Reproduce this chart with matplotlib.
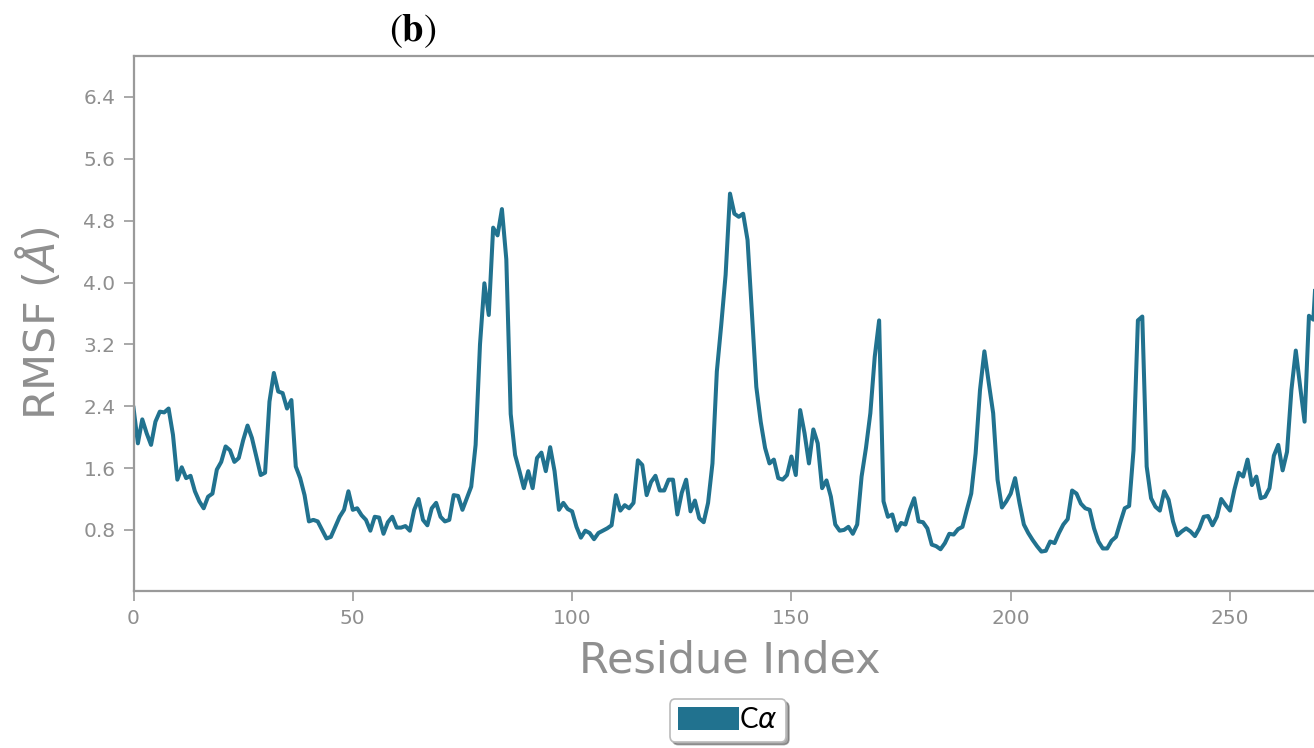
import numpy as np
import matplotlib
matplotlib.use("Agg")
import matplotlib.pyplot as plt
from matplotlib.patches import Patch

# RMSF per residue (Angstrom)
rmsf = [
    2.38, 1.92, 2.23, 2.05, 1.90, 2.20, 2.33, 2.32, 2.37, 2.03,   # 0-9
    1.45, 1.61, 1.47, 1.50, 1.30, 1.17, 1.08, 1.23, 1.27, 1.58,   # 10-19
    1.68, 1.88, 1.83, 1.68, 1.73, 1.96, 2.15, 1.99, 1.75, 1.51,   # 20-29
    1.54, 2.46, 2.83, 2.59, 2.57, 2.37, 2.48, 1.62, 1.47, 1.25,   # 30-39
    0.91, 0.93, 0.91, 0.80, 0.69, 0.71, 0.84, 0.97, 1.06, 1.30,   # 40-49
    1.06, 1.08, 0.99, 0.93, 0.79, 0.97, 0.96, 0.75, 0.90, 0.97,   # 50-59
    0.83, 0.83, 0.85, 0.79, 1.06, 1.20, 0.93, 0.86, 1.08, 1.15,   # 60-69
    0.97, 0.91, 0.93, 1.25, 1.24, 1.06, 1.21, 1.36, 1.90, 3.20,   # 70-79
    3.99, 3.58, 4.71, 4.61, 4.95, 4.30, 2.30, 1.77, 1.56, 1.34,   # 80-89
    1.56, 1.34, 1.73, 1.80, 1.56, 1.87, 1.56, 1.06, 1.15, 1.07,   # 90-99
    1.04, 0.84, 0.70, 0.79, 0.76, 0.68, 0.76, 0.79, 0.82, 0.86,   # 100-109
    1.25, 1.05, 1.12, 1.08, 1.15, 1.70, 1.64, 1.25, 1.42, 1.50,   # 110-119
    1.31, 1.31, 1.45, 1.45, 1.00, 1.28, 1.45, 1.04, 1.18, 0.95,   # 120-129
    0.90, 1.15, 1.66, 2.85, 3.45, 4.10, 5.15, 4.89, 4.85, 4.89,   # 130-139
    4.55, 3.60, 2.65, 2.20, 1.86, 1.66, 1.71, 1.47, 1.45, 1.51,   # 140-149
    1.75, 1.51, 2.35, 2.05, 1.66, 2.10, 1.92, 1.34, 1.44, 1.23,   # 150-159
    0.87, 0.79, 0.80, 0.84, 0.75, 0.87, 1.49, 1.86, 2.31, 3.04,   # 160-169
    3.51, 1.17, 0.97, 1.00, 0.79, 0.89, 0.87, 1.06, 1.21, 0.91,   # 170-179
    0.90, 0.82, 0.61, 0.59, 0.55, 0.63, 0.75, 0.74, 0.81, 0.84,   # 180-189
    1.06, 1.27, 1.79, 2.61, 3.11, 2.70, 2.31, 1.45, 1.09, 1.17,   # 190-199
    1.27, 1.47, 1.15, 0.87, 0.76, 0.67, 0.59, 0.52, 0.53, 0.65,   # 200-209
    0.63, 0.76, 0.87, 0.94, 1.31, 1.27, 1.14, 1.08, 1.06, 0.82,   # 210-219
    0.65, 0.56, 0.56, 0.66, 0.71, 0.90, 1.08, 1.11, 1.83, 3.51,   # 220-229
    3.56, 1.62, 1.21, 1.10, 1.05, 1.30, 1.19, 0.91, 0.73, 0.78,   # 230-239
    0.82, 0.78, 0.72, 0.82, 0.97, 0.98, 0.86, 0.97, 1.20, 1.12,   # 240-249
    1.05, 1.32, 1.54, 1.49, 1.71, 1.38, 1.49, 1.21, 1.23, 1.34,   # 250-259
    1.76, 1.90, 1.57, 1.81, 2.61, 3.12, 2.65, 2.20, 3.57, 3.52,   # 260-269
    4.50,                                                         # 270
]
residue = np.arange(len(rmsf))

yticks = [0.8, 1.6, 2.4, 3.2, 4.0, 4.8, 5.6, 6.4]
xticks = [0, 50, 100, 150, 200, 250]

line_color = "#21728f"
grey = "#8f8f8f"

fig = plt.figure(figsize=(13.14, 7.48), dpi=100)
# axes runs a little past the right edge, like the cropped original
ax = fig.add_axes([133.5 / 1314, 1 - 591 / 748, 1193 / 1314, 535 / 748])

ax.plot(residue, rmsf, color=line_color, linewidth=2.9)

ax.set_xlim(0, 272)
ax.set_ylim(0.01, 6.93)
ax.set_xticks(xticks)
ax.set_yticks(yticks)
ax.set_yticklabels(["%.1f" % t for t in yticks])

for side in ["left", "bottom", "top"]:
    ax.spines[side].set_color("#9a9a9a")
    ax.spines[side].set_linewidth(1.6)
ax.spines["right"].set_visible(False)
ax.tick_params(axis="both", direction="out", length=7, width=1.2,
               color="#9a9a9a", labelcolor=grey, labelsize=14.5, pad=6)

ax.set_xlabel("Residue Index", fontsize=31, color=grey, labelpad=8)
ax.set_ylabel(r"RMSF ($\AA$)", fontsize=31, color=grey, labelpad=14)

# panel letter: regular parens, bold b
fig.text(413 / 1314, 1 - 31 / 748, r"$(\mathbf{b})$",
         math_fontfamily="stix", fontsize=28, ha="center", va="center", color="black")

handle = Patch(facecolor=line_color, edgecolor="none")
leg = fig.legend([handle], [r"C$\alpha$"], loc="upper center",
                 bbox_to_anchor=(728 / 1314, 1 - 699 / 748),
                 fontsize=20, frameon=True, fancybox=True, shadow=True,
                 handlelength=2.2, handleheight=0.9, handletextpad=0.0,
                 borderpad=0.3, borderaxespad=0.0)
leg.get_frame().set_edgecolor("#bbbbbb")
leg.get_frame().set_linewidth(1.2)
for t in leg.get_texts():
    t.set_family("Lato")

fig.savefig("out.png", dpi=100)
